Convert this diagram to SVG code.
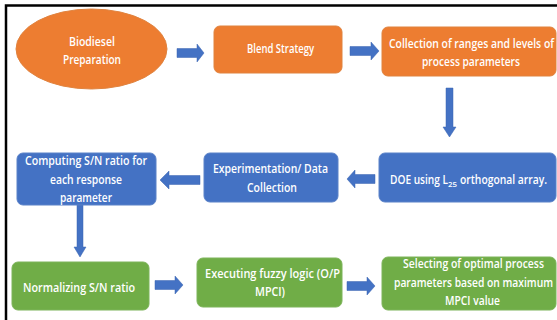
<svg xmlns="http://www.w3.org/2000/svg" width="557" height="320" viewBox="0 0 557 320">
<style>
.bg{fill:#ffffff}
.frame{fill:none;stroke:#000;stroke-width:2.5}
.org{fill:#ED7D31;stroke:#E0833F;stroke-width:1}
.blu{fill:#4472C4;stroke:#5A82C8;stroke-width:1}
.grn{fill:#70AD47;stroke:#7DB45A;stroke-width:1}
.arr{fill:#4472C4;stroke:#3A64B0;stroke-width:0.5}
text{font-family:"Open Sans","Liberation Sans",Arial,sans-serif;font-weight:600;font-size:12.5px;fill:#ffffff;text-anchor:middle}
text.st{text-anchor:start}
.sub{font-size:7.5px}
</style>
<rect class="bg" x="0" y="0" width="557" height="320"/>
<path class="frame" d="M6,320 V5.5 H557"/>
<g id="connectors">
<polygon class="arr" points="177,48.5 197,48.5 197,44 204,53 197,62 197,57.5 177,57.5"/>
<polygon class="arr" points="350,46.5 371,46.5 371,42 379,51 371,60 371,55.5 350,55.5"/>
<polygon class="arr" points="446,88 453,88 453,127 456,127 449.5,137 443,127 446,127"/>
<polygon class="arr" points="375,174.5 355,174.5 355,170 347,179 355,188 355,183.5 375,183.5"/>
<polygon class="arr" points="200,175.5 169,175.5 169,171 160,180 169,189 169,184.5 200,184.5"/>
<polygon class="arr" points="77,205 83,205 83,247 86,247 80,257 74,247 77,247"/>
<polygon class="arr" points="155,280.5 175,280.5 175,276 183,285 175,294 175,289.5 155,289.5"/>
<polygon class="arr" points="347,281.5 367,281.5 367,277 375,286 367,295 367,290.5 347,290.5"/>
</g>
<g id="n1">
<ellipse class="org" cx="91.5" cy="49" rx="75.5" ry="40"/>
<text x="92" y="46" textLength="46" lengthAdjust="spacingAndGlyphs">Biodiesel</text>
<text x="92" y="64" textLength="58" lengthAdjust="spacingAndGlyphs">Preparation</text>
</g>
<g id="n2">
<rect class="org" x="214" y="26" width="128" height="47" rx="6"/>
<text x="280.5" y="52.5" textLength="67" lengthAdjust="spacingAndGlyphs">Blend Strategy</text>
</g>
<g id="n3">
<rect class="org" x="382" y="27" width="174" height="49" rx="6"/>
<text x="471.5" y="47.5" textLength="165" lengthAdjust="spacingAndGlyphs">Collection of ranges and levels of</text>
<text x="471" y="65.5" textLength="98" lengthAdjust="spacingAndGlyphs">process parameters</text>
</g>
<g id="n4">
<rect class="blu" x="379" y="153" width="177" height="49" rx="6"/>
<text class="st" x="390" y="184" textLength="58" lengthAdjust="spacingAndGlyphs">DOE using L</text>
<text class="st sub" x="448" y="187" textLength="9" lengthAdjust="spacingAndGlyphs">25</text>
<text class="st" x="460" y="184" textLength="87" lengthAdjust="spacingAndGlyphs">orthogonal array.</text>
</g>
<g id="n5">
<rect class="blu" x="204" y="153" width="134" height="49" rx="6"/>
<text x="270.5" y="172.5" textLength="115" lengthAdjust="spacingAndGlyphs">Experimentation/ Data</text>
<text x="272" y="192" textLength="50" lengthAdjust="spacingAndGlyphs">Collection</text>
</g>
<g id="n6">
<rect class="blu" x="17" y="153" width="139" height="52" rx="6"/>
<text x="86" y="164.5" textLength="122" lengthAdjust="spacingAndGlyphs">Computing  S/N ratio for</text>
<text x="86" y="183.5" textLength="72" lengthAdjust="spacingAndGlyphs">each response</text>
<text x="86" y="202" textLength="52" lengthAdjust="spacingAndGlyphs">parameter</text>
</g>
<g id="n7">
<rect class="grn" x="12" y="262" width="137" height="48" rx="6"/>
<text x="79" y="291.5" textLength="112" lengthAdjust="spacingAndGlyphs">Normalizing S/N ratio</text>
</g>
<g id="n8">
<rect class="grn" x="197" y="258" width="145" height="49" rx="6"/>
<text x="272.5" y="277.5" textLength="135" lengthAdjust="spacingAndGlyphs">Executing fuzzy logic (O/P</text>
<text x="270" y="296" textLength="30" lengthAdjust="spacingAndGlyphs">MPCI)</text>
</g>
<g id="n9">
<rect class="grn" x="382" y="257" width="174" height="53" rx="6"/>
<text x="473.5" y="268" textLength="141" lengthAdjust="spacingAndGlyphs">Selecting of optimal process</text>
<text x="473.5" y="287" textLength="159" lengthAdjust="spacingAndGlyphs">parameters based on maximum</text>
<text x="472.5" y="305" textLength="55" lengthAdjust="spacingAndGlyphs">MPCI value</text>
</g>
</svg>
